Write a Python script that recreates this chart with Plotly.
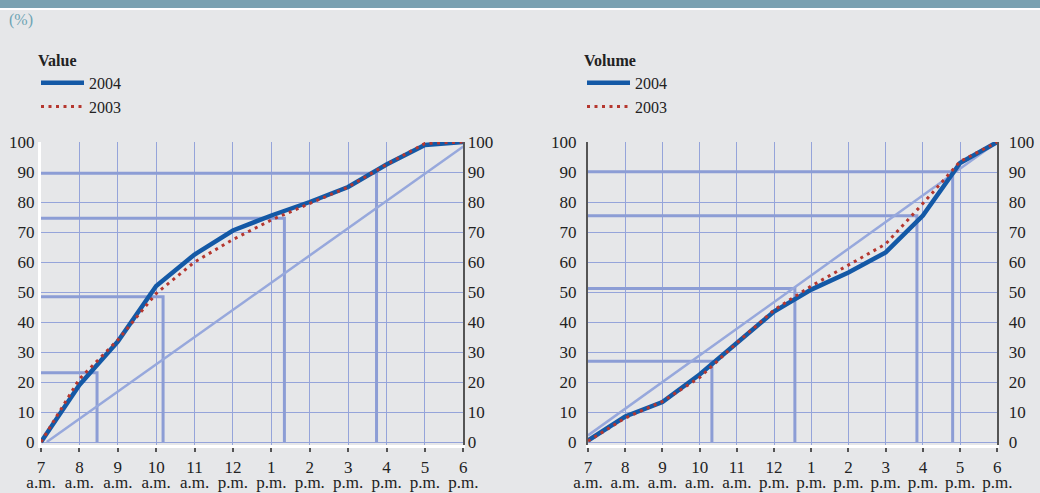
import plotly.graph_objects as go

# ---------------- data ----------------
hours = list(range(12))  # hours after 7 a.m.
hour_numbers = ["7", "8", "9", "10", "11", "12", "1", "2", "3", "4", "5", "6"]
hour_periods = ["a.m.", "a.m.", "a.m.", "a.m.", "a.m.", "p.m.",
                "p.m.", "p.m.", "p.m.", "p.m.", "p.m.", "p.m."]
y_ticks = list(range(0, 101, 10))

value_2004 = [0, 19, 33.5, 52, 62.5, 70.5, 75.5, 80, 85, 92.5, 99, 100]
value_2003 = [0, 21, 34, 49.5, 60, 67.5, 74, 79.5, 85, 92.5, 99.5, 100]
volume_2004 = [0.5, 8.5, 13.3, 22.5, 33, 43.5, 50.8, 56.5, 63.2, 75.5, 93, 100]
volume_2003 = [0.3, 8, 13.5, 21.5, 33, 44, 52, 59, 66, 79.5, 93.5, 100]

value_marker_x = [1.46, 3.18, 6.34, 8.74]
value_marker_y = [23.1, 48.4, 74.6, 89.6]
volume_marker_x = [3.33, 5.56, 8.84, 9.80]
volume_marker_y = [26.9, 51.2, 75.4, 90.1]

value_diag_x = [0.15, 11]
value_diag_y = [0, 98.5]
volume_diag_x = [0, 11]
volume_diag_y = [2.2, 100]

# ---------------- style ----------------
BG = "#e6e7e9"
GRID = "#95a4da"
REF = "#8c9dd5"
DIAG = "#97a8dc"
BLUE = "#1459a6"
RED = "#b5372f"
FONT = "Liberation Serif"
TXT = "#222222"

fig = go.Figure()


def step_path(mx, my):
    xs, ys = [], []
    for a, b in zip(mx, my):
        xs += [0, a, a, None]
        ys += [b, b, 0, None]
    return xs, ys


def add_panel(xa, ya, mx, my, dx, dy, s04, s03, leg):
    px, py = step_path(mx, my)
    fig.add_trace(go.Scatter(x=px, y=py, mode="lines", xaxis=xa, yaxis=ya,
                             line=dict(color=REF, width=3), showlegend=False, hoverinfo="skip"))
    fig.add_trace(go.Scatter(x=dx, y=dy, mode="lines", xaxis=xa, yaxis=ya,
                             line=dict(color=DIAG, width=2.5), showlegend=False, hoverinfo="skip"))
    fig.add_trace(go.Scatter(x=hours, y=s04, mode="lines", xaxis=xa, yaxis=ya, name="2004",
                             legend=leg, line=dict(color=BLUE, width=4.5)))
    fig.add_trace(go.Scatter(x=hours, y=s03, mode="lines", xaxis=xa, yaxis=ya, name="2003",
                             legend=leg, line=dict(color=RED, width=3, dash="3px,4.5px")))


add_panel("x", "y", value_marker_x, value_marker_y, value_diag_x, value_diag_y,
          value_2004, value_2003, "legend")
add_panel("x2", "y2", volume_marker_x, volume_marker_y, volume_diag_x, volume_diag_y,
          volume_2004, volume_2003, "legend2")

W, H = 1040, 493
ydom = [48 / H, 351 / H]
tickfont = dict(family=FONT, size=17, color=TXT)


def xaxis(dom, anchor):
    return dict(domain=dom, anchor=anchor, range=[0, 11], tickvals=hours, ticktext=hour_numbers,
                showgrid=True, gridcolor=GRID, gridwidth=1, zeroline=False,
                showline=True, linecolor="white", linewidth=3, automargin=False,
                ticks="outside", ticklen=4, tickwidth=1.5, tickcolor="#555555",
                tickfont=tickfont, ticklabelstandoff=1, fixedrange=True)


def period_axis(overlay, anchor):
    return dict(overlaying=overlay, anchor=anchor, side="bottom", range=[0, 11], tickvals=hours,
                ticktext=hour_periods, showgrid=False, zeroline=False, showline=False,
                automargin=False, ticks="", tickfont=tickfont, ticklabelstandoff=25, fixedrange=True)


def yaxis(anchor, side="left", overlay=None, grid=True, linecolor="white", standoff=6):
    d = dict(domain=ydom, anchor=anchor, range=[-1, 100], tickvals=y_ticks, side=side,
             showgrid=grid, gridcolor=GRID, gridwidth=1, zeroline=False, automargin=False,
             showline=True, linecolor=linecolor, linewidth=2 if linecolor != "white" else 3,
             ticks="", tickfont=tickfont, ticklabelstandoff=standoff, fixedrange=True)
    if overlay:
        d["overlaying"] = overlay
    return d


legend_common = dict(bgcolor="rgba(0,0,0,0)", borderwidth=0, font=dict(family=FONT, size=16, color=TXT),
                     itemwidth=43, xanchor="left", yanchor="top", tracegroupgap=0,
                     title=dict(font=dict(family=FONT, size=16, color=TXT)))

fig.update_layout(
    autosize=True, margin=dict(l=0, r=0, t=0, b=0, pad=0, autoexpand=False),
    paper_bgcolor=BG, plot_bgcolor=BG,
    xaxis=xaxis([41 / W, 463.3 / W], "y"),
    xaxis3=period_axis("x", "y"),
    yaxis=yaxis("x", standoff=0),
    yaxis3=yaxis("x", side="right", overlay="y", grid=False, linecolor="#555555", standoff=-1),
    xaxis2=xaxis([588 / W, 997.3 / W], "y2"),
    xaxis4=period_axis("x2", "y2"),
    yaxis2=yaxis("x2", linecolor="#555555", standoff=6),
    yaxis4=yaxis("x2", side="right", overlay="y2", grid=False, linecolor="#555555", standoff=6),
    legend=dict(legend_common, x=36 / W, y=1 - 45 / H, title_text="<b>Value</b>"),
    legend2=dict(legend_common, x=582 / W, y=1 - 45 / H, title_text="<b>Volume</b>"),
    showlegend=True,
    shapes=[
        dict(type="rect", xref="paper", yref="paper", x0=0, x1=1, y0=1 - 8 / H, y1=1,
             fillcolor="#7aa1b1", line=dict(width=0), layer="above"),
        dict(type="rect", xref="paper", yref="paper", x0=0, x1=1, y0=1 - 10 / H, y1=1 - 8 / H,
             fillcolor="white", line=dict(width=0), layer="above"),
    ],
    annotations=[
        dict(text="(%)", xref="paper", yref="paper", x=7 / W, y=1 - 20 / H, xanchor="left",
             yanchor="middle", showarrow=False, font=dict(family=FONT, size=16, color="#6ea4b4")),
    ],
)

# dummy traces so the overlaying axes render
fig.add_trace(go.Scatter(x=[None], y=[None], xaxis="x", yaxis="y3", showlegend=False, hoverinfo="skip"))
fig.add_trace(go.Scatter(x=[None], y=[None], xaxis="x2", yaxis="y4", showlegend=False, hoverinfo="skip"))
fig.add_trace(go.Scatter(x=[None], y=[None], xaxis="x3", yaxis="y", showlegend=False, hoverinfo="skip"))
fig.add_trace(go.Scatter(x=[None], y=[None], xaxis="x4", yaxis="y2", showlegend=False, hoverinfo="skip"))

fig.write_html(
    "out.html",
    config={"displayModeBar": False, "responsive": True},
    default_width="100vw",
    default_height="100vh",
    post_script=(
        "document.documentElement.style.margin='0';document.documentElement.style.overflow='hidden';"
        "document.body.style.margin='0';document.body.style.overflow='hidden';"
        "Plotly.Plots.resize(document.getElementById('{plot_id}'));"
    ),
)
